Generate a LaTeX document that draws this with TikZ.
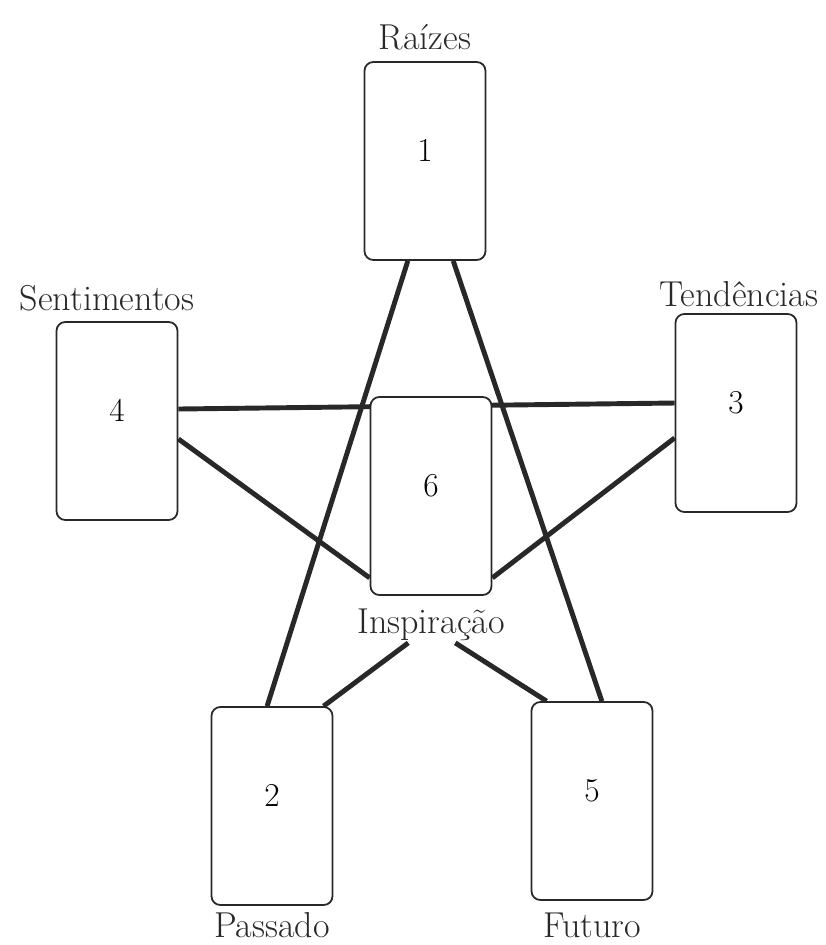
\documentclass[tikz,border=0pt]{standalone}
\usetikzlibrary{positioning, calc, backgrounds}
\definecolor{inkgray}{RGB}{40,40,40}

\begin{document}
\begin{tikzpicture}[x=0.02cm, y=-0.02cm,
  card/.style={draw=inkgray, line width=1pt, fill=white, rounded corners=5pt,
    minimum width=2.42cm, minimum height=3.96cm, inner sep=0pt,
    font=\fontsize{19}{22}\selectfont, text height=0.45cm, text depth=0.42cm},
  lbl/.style={font=\fontsize{20.5}{24}\selectfont, inner sep=1pt, text=inkgray},
  link/.style={line width=2.8pt, draw=inkgray}]
  \useasboundingbox (0,0) rectangle (825,945);

  % cards of the spread
  \foreach \n/\x/\y/\d in {c1/425/161/1, c2/272/806/2, c3/736/413/3,
                           c4/117/421/4, c5/592/801/5, c6/431/496/6}{
    \node[card] (\n) at (\x,\y) {\d};
  }

  % position names
  \node[lbl, above=0.17cm of c1] (raizes) {Raízes};
  \node[lbl, above=0.15cm of c4, xshift=-0.2cm] (sentim) {Sentimentos};
  \node[lbl, above=0.08cm of c3, xshift=0.06cm] (tend) {Tendências};
  \node[lbl, below=0.22cm of c6] (insp) {Inspiração};
  \node[lbl, below=0.1cm of c2] (passado) {Passado};
  \node[lbl, below=0.2cm of c5] (futuro) {Futuro};

  % star lines
  \begin{scope}[on background layer]
    \draw[link] ($(c1.south west)!0.36!(c1.south east)$) -- ($(c2.north west)!0.46!(c2.north east)$);
    \draw[link] ($(c1.south west)!0.73!(c1.south east)$) -- ($(c5.north west)!0.58!(c5.north east)$);
    \draw[link] ($(c4.north east)!0.44!(c4.south east)$) -- ($(c3.north west)!0.45!(c3.south west)$);
    \draw[link] ($(c4.north east)!0.59!(c4.south east)$) -- ($(c6.north west)!0.91!(c6.south west)$);
    \draw[link] ($(c3.north west)!0.625!(c3.south west)$) -- ($(c6.north east)!0.91!(c6.south east)$);
    \draw[link] ($(insp.south west)!0.35!(insp.south east)$) -- ($(c2.north west)!0.92!(c2.north east)$);
    \draw[link] ($(insp.south west)!0.66!(insp.south east)$) -- ($(c5.north west)!0.13!(c5.north east)$);
  \end{scope}
\end{tikzpicture}
\end{document}
